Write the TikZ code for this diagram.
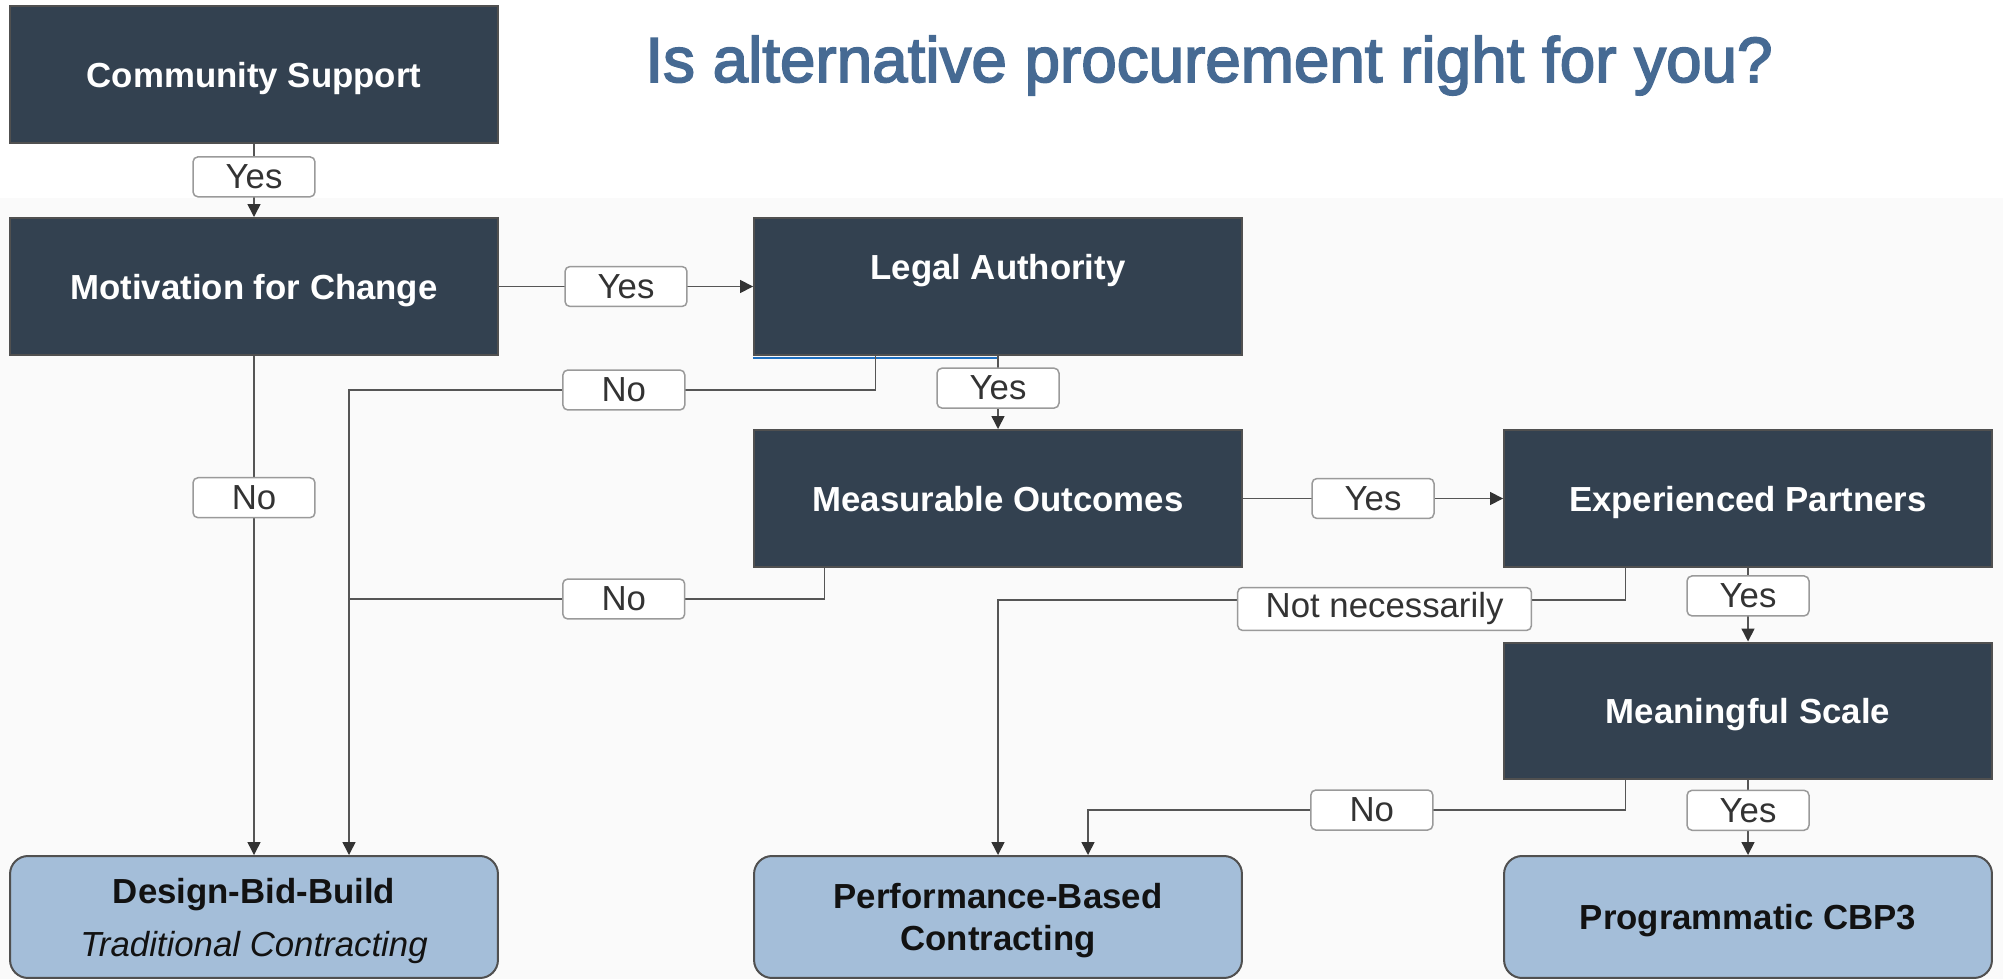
\documentclass[tikz,border=0pt]{standalone}
\usepackage{fontspec}
\setmainfont{Liberation Sans}
\newfontfamily\titlefont[FakeBold=2.6]{Liberation Sans}
\usetikzlibrary{calc,arrows.meta}
\definecolor{boxdark}{HTML}{334150}
\definecolor{boxlight}{HTML}{A4BED9}
\definecolor{boxedge}{HTML}{505050}
\definecolor{titleblue}{HTML}{466A93}
\definecolor{lblgray}{HTML}{9A9A9A}
\definecolor{linegray}{HTML}{555555}
\definecolor{bggray}{HTML}{FAFAFA}
\definecolor{selblue}{HTML}{1F6FBF}
\newcommand{\boxfont}{\fontsize{19.8}{23.8}\selectfont}
\tikzset{
  darkbox/.style={draw=boxedge, fill=boxdark, line width=0.04cm,
    minimum width=9.76cm, minimum height=2.74cm, inner sep=0pt,
    text depth=0pt, text=white, font=\boxfont\bfseries, align=center},
  lightbox/.style={darkbox, fill=boxlight, text=black!93,
    rounded corners=0.36cm, minimum height=2.44cm},
  lbl/.style={draw=lblgray, fill=white, line width=0.03cm,
    rounded corners=0.1cm, text=black!80, font=\boxfont,
    minimum width=2.44cm, minimum height=0.8cm,
    inner xsep=0.56cm, inner ysep=0pt},
  conn/.style={draw=linegray, line width=0.03cm},
  arr/.style={conn, -{Triangle[width=0.26cm, length=0.26cm, color=black!80]}},
}
\begin{document}
\begin{tikzpicture}[x=0.02cm, y=-0.02cm]
          % page
          \useasboundingbox (0,0) rectangle (2003,979);
          \fill[white] (0,0) rectangle (2003,198);
          \fill[bggray] (0,198) rectangle (2003,979);
          \node (title) at (1209,82) [anchor=base, text=titleblue,
            font=\titlefont\fontsize{36.3}{40}\selectfont]
            {Is alternative procurement right for you?};
          % questions
          \node (cs) at (254,74.5) [darkbox] {Community Support};
          \node (mot) at (254,286.5) [darkbox] {Motivation for Change};
          \node (legal) at (998,286.5) [darkbox]
            {\raisebox{0.14cm}[0pt][0pt]{Legal Authority}};
          \node (meas) at (998,498.5) [darkbox] {Measurable Outcomes};
          \node (exp) at (1748,498.5) [darkbox] {Experienced Partners};
          \node (ms) at (1748,711) [darkbox] {Meaningful Scale};
          % answers
          \node (dbb) at (254,917) [lightbox]
            {Design-Bid-Build\\[0.22cm]\normalfont\itshape Traditional Contracting};
          \node (pbc) at (998,917) [lightbox] {Performance-Based\\Contracting};
          \node (prog) at (1748,917) [lightbox] {Programmatic CBP3};
          \coordinate (nojoin) at (349,390);
          \coordinate (nojoinb) at (349,599);
          \coordinate (nnbend) at (998,600);
          \coordinate (msbend) at (1088,810);
          \draw[selblue, line width=0.04cm]
            ([yshift=-0.04cm]legal.south west) -- ([yshift=-0.04cm]legal.south);
          % yes branches
          \draw[arr] (cs.south) -- (mot.north) node[lbl, pos=.45] (y1) {Yes};
          \draw[arr] (mot.east) -- (legal.west) node[lbl, pos=.5] (y2) {Yes};
          \draw[arr] (legal.south) -- (meas.north) node[lbl, pos=.44] (y3) {Yes};
          \draw[arr] (meas.east) -- (exp.west) node[lbl, pos=.5] (y4) {Yes};
          \draw[arr] (exp.south) -- (ms.north) node[lbl, pos=.38] (y5) {Yes};
          \draw[arr] (ms.south) -- (prog.north) node[lbl, pos=.40] (y6) {Yes};
          % no branches
          \draw[arr] (mot.south) -- (dbb.north) node[lbl, pos=.284] (n1) {No};
          \draw[arr] ($(legal.south west)!.25!(legal.south east)$) |- (nojoin)
            node[lbl, pos=.739] (n2) {No} -- (dbb.north -| nojoin);
          \draw[conn] ($(meas.south west)!.1455!(meas.south east)$) |- (nojoinb)
            node[lbl, pos=.711] (n3) {No};
          \draw[arr] ($(exp.south west)!.25!(exp.south east)$) |- (nnbend)
            node[lbl, pos=.692, yshift=-0.18cm, minimum height=0.86cm] (nn) {Not necessarily}
            -- (pbc.north);
          \draw[arr] ($(ms.south west)!.25!(ms.south east)$) |- (msbend)
            node[lbl, pos=.736] (n4) {No} -- (pbc.north -| msbend);
        \end{tikzpicture}
\end{document}
